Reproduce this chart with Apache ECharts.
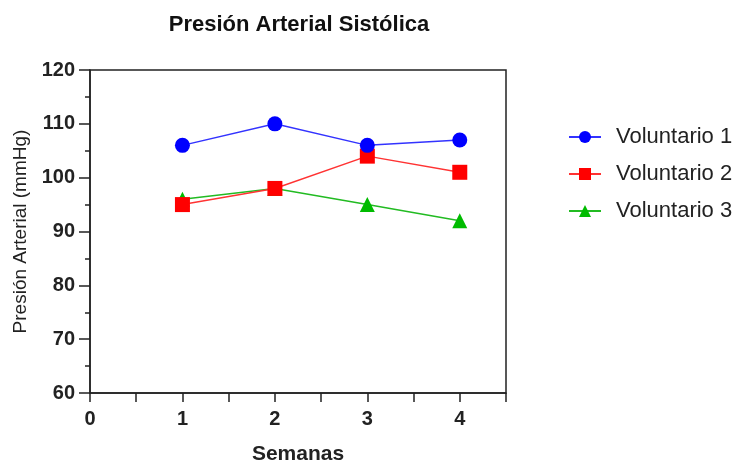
<!DOCTYPE html>
<html><head><meta charset="utf-8">
<script src="https://cdn.jsdelivr.net/npm/echarts@6/dist/echarts.min.js"></script>
<style>html,body{margin:0;padding:0;background:#fff}#c{width:737px;height:465px}</style>
</head><body><div id="c"></div>
<script>
const weeks = [1, 2, 3, 4];
const v1 = [106, 110, 106, 107];
const v2 = [95, 98, 104, 101];
const v3 = [96, 98, 95, 92];
const seriesNames = ['Voluntario 1', 'Voluntario 2', 'Voluntario 3'];
const FONT = '"Liberation Sans", Arial, sans-serif';
const pair = a => weeks.map((w, i) => [w, a[i]]);
const chart = echarts.init(document.getElementById('c'));
const axisCol = '#222';
chart.setOption({
  animation: false,
  title: { text: 'Presión Arterial Sistólica', left: 294, top: 9, textAlign: 'center',
    textStyle: { fontFamily: FONT, fontSize: 22, fontWeight: 'bold', color: '#111' } },
  legend: {
    orient: 'vertical', left: 563, top: 121, itemWidth: 32, itemHeight: 15, itemGap: 15,
    textStyle: { fontFamily: FONT, fontSize: 22, color: '#222', padding: [0, 0, 0, 10] },
    data: seriesNames
  },
  grid: { left: 90, right: 231, top: 70, bottom: 72, outerBoundsMode: 'none', containLabel: false,
    show: true, borderColor: axisCol, borderWidth: 1.5 },
  xAxis: {
    type: 'value', min: 0, max: 4.5, interval: 0.5,
    name: 'Semanas', nameLocation: 'middle', nameGap: 51,
    nameTextStyle: { fontFamily: FONT, fontSize: 21, fontWeight: 'bold', color: '#222' },
    axisLine: { lineStyle: { color: axisCol, width: 1.5 } },
    axisTick: { length: 9, lineStyle: { color: axisCol, width: 1.5 } },
    axisLabel: { fontFamily: FONT, fontSize: 20, fontWeight: 'bold', color: '#222', margin: 16,
      showMaxLabel: true, formatter: v => Number.isInteger(v) ? String(v) : '' },
    splitLine: { show: false }
  },
  yAxis: {
    type: 'value', min: 60, max: 120, interval: 10,
    name: 'Presión Arterial (mmHg)', nameLocation: 'middle', nameGap: 56,
    nameTextStyle: { fontFamily: FONT, fontSize: 19, color: '#222' },
    axisLine: { show: true, lineStyle: { color: axisCol, width: 1.5 } },
    axisTick: { show: true, length: 11, lineStyle: { color: axisCol, width: 1.5 } },
    minorTick: { show: true, splitNumber: 2, length: 5, lineStyle: { color: axisCol, width: 1.5 } },
    axisLabel: { fontFamily: FONT, fontSize: 20, fontWeight: 'bold', color: '#222', margin: 15 },
    splitLine: { show: false }
  },
  series: [
    { name: seriesNames[0], type: 'line', data: pair(v1), symbol: 'circle', symbolSize: 15, z: 4,
      itemStyle: { color: '#0000ff' }, lineStyle: { color: '#3333ff', width: 1.5 } },
    { name: seriesNames[1], type: 'line', data: pair(v2), symbol: 'rect', symbolSize: 15, z: 3,
      itemStyle: { color: '#ff0000' }, lineStyle: { color: '#ff3333', width: 1.5 } },
    { name: seriesNames[2], type: 'line', data: pair(v3), symbol: 'triangle', symbolSize: 15, z: 2,
      itemStyle: { color: '#00bb00' }, lineStyle: { color: '#22bb22', width: 1.5 } }
  ]
});
</script></body></html>
